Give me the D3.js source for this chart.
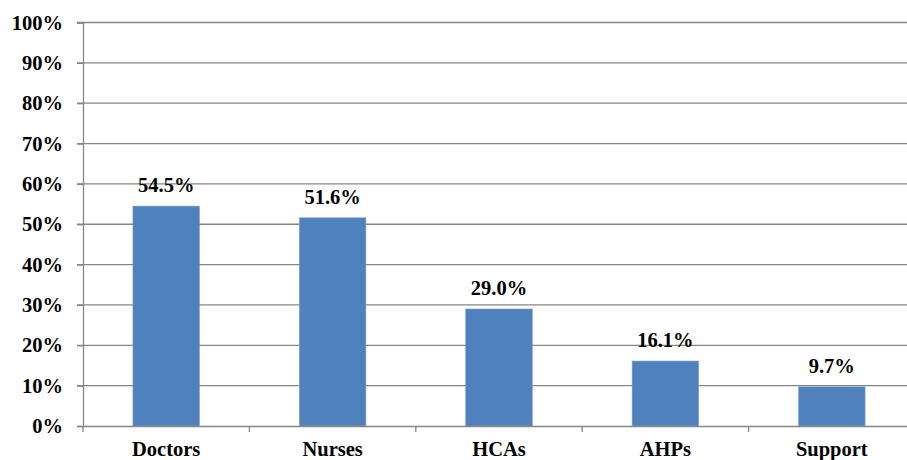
<!DOCTYPE html>
<html><head><meta charset="utf-8">
<script src="https://cdn.jsdelivr.net/npm/d3@7"></script>
<style>body{margin:0;background:#fff;}svg{display:block;}
svg text{font-family:"Liberation Serif","Times New Roman",serif !important;font-weight:bold;fill:#000;}</style>
</head><body>
<svg id="c" width="907" height="460"></svg>
<script>
const categories = ["Doctors","Nurses","HCAs","AHPs","Support"];
const values = [54.5, 51.6, 29.0, 16.1, 9.7];
const yTicks = [0,10,20,30,40,50,60,70,80,90,100];

(function(){
const svg = d3.select("#c");
const mLeft = 83, mRight = 915, mTop = 22.5, mBottom = 426;
const fs = "20.5px";

const x = d3.scaleBand().domain(categories).range([mLeft, mRight]).paddingInner(0.6).paddingOuter(0.3);
const xb = d3.scaleBand().domain(categories).range([mLeft, mRight]);
const y = d3.scaleLinear().domain([0,100]).range([mBottom, mTop]);

svg.append("g").selectAll("line").data(yTicks.filter(d=>d>0)).join("line")
  .attr("x1", mLeft-6).attr("x2", mRight).attr("y1", d=>y(d)).attr("y2", d=>y(d))
  .attr("stroke", "#868686").attr("stroke-width", 1.3);

svg.append("g").selectAll("rect").data(values).join("rect")
  .attr("x", (d,i)=>x(categories[i])).attr("width", x.bandwidth())
  .attr("y", d=>y(d)).attr("height", d=>y(0)-y(d))
  .attr("fill", "#4F81BD").attr("stroke","#7fa3d0").attr("stroke-width",0.6);

const ya = svg.append("g").attr("transform", `translate(${mLeft},0)`)
  .call(d3.axisLeft(y).tickValues(yTicks).tickFormat(d=>d+"%").tickSize(6).tickPadding(14));
ya.select(".domain").attr("stroke","#868686").attr("stroke-width",1.3);
ya.selectAll(".tick line").attr("stroke","#868686").attr("stroke-width",1.3);
ya.selectAll("text").style("font-size", fs);

const xa = svg.append("g").attr("transform", `translate(0,${mBottom})`)
  .call(d3.axisBottom(xb).tickSize(0).tickPadding(15));
xa.select(".domain").attr("stroke","#868686").attr("stroke-width",1.3);
xa.selectAll("text").style("font-size", fs);
const bounds = categories.map(c=>xb(c)).concat([mRight]);
svg.append("g").selectAll("line").data(bounds).join("line")
  .attr("x1", d=>d).attr("x2", d=>d).attr("y1", mBottom).attr("y2", mBottom+6)
  .attr("stroke","#868686").attr("stroke-width",1.3);

svg.append("g").selectAll("text").data(values).join("text")
  .attr("x", (d,i)=>x(categories[i]) + x.bandwidth()/2)
  .attr("y", d=>y(d) - 14)
  .attr("text-anchor","middle")
  .style("font-size", fs)
  .text(d=>d.toFixed(1)+"%");
})();
</script>
</body></html>
